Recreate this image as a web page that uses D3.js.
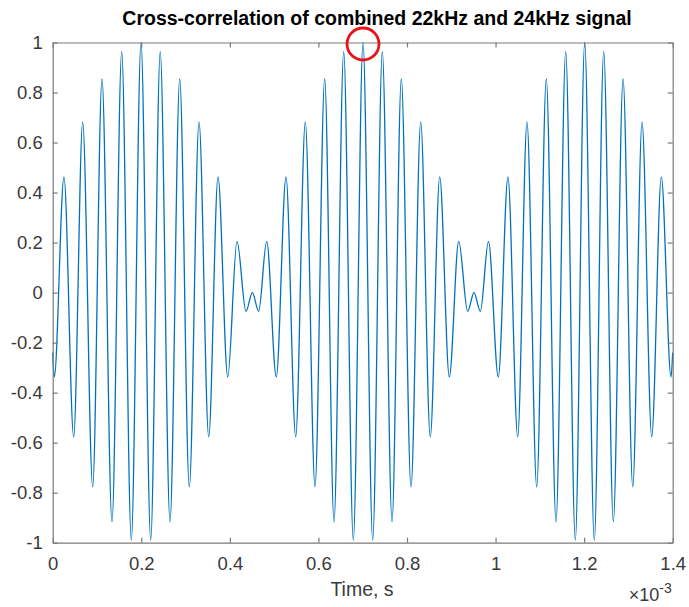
<!DOCTYPE html>
<html>
<head>
<meta charset="utf-8">
<script src="https://cdn.jsdelivr.net/npm/d3@7"></script>
<style>
  html, body { margin: 0; padding: 0; background: #fff; }
  svg { display: block; }
  text { font-family: "Liberation Sans", Arial, Helvetica, sans-serif; }
</style>
</head>
<body>
<svg id="chart" width="689" height="607"></svg>
<script>
// ---- data ----
const titleText = "Cross-correlation of combined 22kHz and 24kHz signal";
const xLabelText = "Time, s";
// time of each local extremum of the curve, in units of 1e-3 s
const timeMs = [
  0.0000, 0.0036, 0.0255, 0.0474, 0.0677, 0.0903, 0.1113, 0.1339, 0.1558, 0.1775,
  0.1994, 0.2213, 0.2428, 0.2649, 0.2868, 0.3085, 0.3304, 0.3523, 0.3733, 0.3952,
  0.4162, 0.4365, 0.4508, 0.4650, 0.4832, 0.5049, 0.5268, 0.5487, 0.5704, 0.5923,
  0.6142, 0.6352, 0.6571, 0.6788, 0.7007, 0.7226, 0.7443, 0.7662, 0.7872, 0.8091,
  0.8310, 0.8526, 0.8739, 0.8956, 0.9168, 0.9371, 0.9513, 0.9656, 0.9840, 1.0062,
  1.0280, 1.0500, 1.0710, 1.0929, 1.1146, 1.1365, 1.1584, 1.1801, 1.2013, 1.2230,
  1.2442, 1.2660, 1.2879, 1.3098, 1.3308, 1.3526, 1.3743, 1.3962, 1.4000
];
// correlation value at each of those times
const corrValue = [
  -0.240, -0.337, 0.463, -0.577, 0.683, -0.777, 0.854, -0.917, 0.963, -0.990,
   1.000, -0.990, 0.963, -0.917, 0.854, -0.777, 0.683, -0.577, 0.463, -0.337,
   0.205, -0.075, 0.000, -0.075, 0.205, -0.337, 0.463, -0.577, 0.683, -0.777,
   0.854, -0.917, 0.963, -0.990, 1.000, -0.990, 0.963, -0.917, 0.854, -0.777,
   0.683, -0.577, 0.463, -0.337, 0.205, -0.075, 0.000, -0.075, 0.205, -0.337,
   0.463, -0.577, 0.683, -0.777, 0.854, -0.917, 0.963, -0.990, 1.000, -0.990,
   0.963, -0.917, 0.854, -0.777, 0.683, -0.577, 0.463, -0.337, -0.240
];
const xTicks = [0, 0.2, 0.4, 0.6, 0.8, 1, 1.2, 1.4];
const yTicks = [-1, -0.8, -0.6, -0.4, -0.2, 0, 0.2, 0.4, 0.6, 0.8, 1];
const xDomain = [0, 1.4];
const yDomain = [-1, 1];
const highlightTime = 0.7007;   // circled peak
const highlightValue = 1.0;

// ---- drawing ----
(function () {
const svg = d3.select("#chart");
const pL = 52.7, pR = 672.7, pT = 42.5, pB = 542.7;
const x = d3.scaleLinear().domain(xDomain).range([pL, pR]);
const y = d3.scaleLinear().domain(yDomain).range([pB, pT]);
const axisColor = "#7a7a7a";
const labelColor = "#3a3a3a";
const tickLen = 5;

const fmt = d => String(Math.round(d * 10) / 10);

const data = timeMs.map((t, i) => ({ t, v: corrValue[i] }));

const line = d3.line()
  .x(d => x(d.t))
  .y(d => y(d.v))
  .curve(d3.curveMonotoneX);

svg.append("path")
  .datum(data)
  .attr("d", line)
  .attr("fill", "none")
  .attr("stroke", "#0072BD")
  .attr("stroke-width", 1.3);

const xAxisB = d3.axisBottom(x).tickValues(xTicks).tickFormat(fmt).tickSizeInner(-tickLen).tickSizeOuter(0).tickPadding(14);
const xAxisT = d3.axisTop(x).tickValues(xTicks).tickFormat("").tickSizeInner(-tickLen).tickSizeOuter(0);
const yAxisL = d3.axisLeft(y).tickValues(yTicks).tickFormat(fmt).tickSizeInner(-tickLen).tickSizeOuter(0).tickPadding(10);
const yAxisR = d3.axisRight(y).tickValues(yTicks).tickFormat("").tickSizeInner(-tickLen).tickSizeOuter(0);

function styleAxis(g) {
  g.select(".domain").attr("stroke", axisColor).attr("stroke-width", 1.2);
  g.selectAll(".tick line").attr("stroke", axisColor).attr("stroke-width", 1.2);
  g.selectAll(".tick text")
    .attr("fill", labelColor)
    .style("font-family", '"Liberation Sans", Arial, sans-serif')
    .style("font-size", "18.5px");
}

svg.append("g").attr("transform", `translate(0,${pB})`).call(xAxisB).call(styleAxis);
svg.append("g").attr("transform", `translate(0,${pT})`).call(xAxisT).call(styleAxis);
svg.append("g").attr("transform", `translate(${pL},0)`).call(yAxisL).call(styleAxis);
svg.append("g").attr("transform", `translate(${pR},0)`).call(yAxisR).call(styleAxis);

svg.append("text")
  .attr("x", 377)
  .attr("y", 25)
  .attr("text-anchor", "middle")
  .attr("fill", "#000")
  .style("font-size", "19.5px")
  .style("font-weight", "bold")
  .text(titleText);

svg.append("text")
  .attr("x", 362)
  .attr("y", 596)
  .attr("text-anchor", "middle")
  .attr("fill", labelColor)
  .style("font-size", "19.5px")
  .text(xLabelText);

const expT = svg.append("text")
  .attr("x", pR - 1)
  .attr("y", 601)
  .attr("text-anchor", "end")
  .attr("fill", labelColor)
  .style("font-size", "18px");
expT.append("tspan").text("\u00d710");
expT.append("tspan").attr("dy", -8).style("font-size", "14px").text("-3");

svg.append("circle")
  .attr("cx", x(highlightTime))
  .attr("cy", y(highlightValue) + 1.5)
  .attr("r", 16)
  .attr("fill", "none")
  .attr("stroke", "#e8141b")
  .attr("stroke-width", 2.8);
})();
</script>
</body>
</html>
